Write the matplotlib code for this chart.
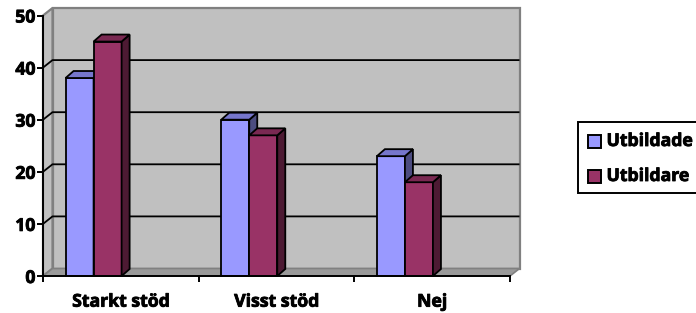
import matplotlib
matplotlib.use("Agg")
import matplotlib.pyplot as plt
from matplotlib.patches import Polygon, Rectangle
import matplotlib.patheffects as pe

# ---- data ----
categories = ["Starkt stöd", "Visst stöd", "Nej"]
series_names = ["Utbildade", "Utbildare"]
utbildade = [38, 30, 23]
utbildare = [45, 27, 18]
y_ticks = [0, 10, 20, 30, 40, 50]

# ---- style ----
FONT = "Open Sans"
FS = 12.7
WEIGHT = "bold"
EFFECT = [pe.withStroke(linewidth=0.6, foreground="black")]
front_cols = ["#9999FF", "#993366"]
top_cols = ["#7676CC", "#7A2952"]
side_cols = ["#4C4C80", "#4D1A33"]
wall_col = "#C0C0C0"
wall_edge = "#808080"
floor_col = "#9A9A9A"

W, H = 696, 313
fig = plt.figure(figsize=(W / 100, H / 100), dpi=100)
fig.patch.set_facecolor("white")

ax_l, ax_r = 43, 510
ax_t, ax_b = 15.5, 276
ax = fig.add_axes([ax_l / W, 1 - ax_b / H, (ax_r - ax_l) / W, (ax_b - ax_t) / H])
x0, x1 = -0.5, len(categories) - 0.5
y0, y1 = y_ticks[0], y_ticks[-1]
ax.set_xlim(x0, x1)
ax.set_ylim(y0, y1)
ax.set_facecolor("none")

px_x = (ax_r - ax_l) / (x1 - x0)
px_y = (ax_b - ax_t) / (y1 - y0)
wdx, wdy = 9.5 / px_x, 7.5 / px_y
bdx, bdy = 8 / px_x, 7 / px_y

# walls & floor
ax.add_patch(Polygon([(x0 + wdx, y0 + wdy), (x1 + wdx, y0 + wdy), (x1 + wdx, y1 + wdy), (x0 + wdx, y1 + wdy)],
                     closed=True, fc=wall_col, ec=wall_edge, lw=1.6, clip_on=False, zorder=0.5))
ax.add_patch(Polygon([(x0, y0), (x0 + wdx, y0 + wdy), (x0 + wdx, y1 + wdy), (x0, y1)],
                     closed=True, fc=wall_col, ec=wall_edge, lw=1.6, clip_on=False, zorder=0.6))
ax.add_patch(Polygon([(x0, y0), (x1, y0), (x1 + wdx, y0 + wdy), (x0 + wdx, y0 + wdy)],
                     closed=True, fc=floor_col, ec=wall_edge, lw=1.2, clip_on=False, zorder=0.7))

for v in y_ticks[1:-1]:
    ax.plot([x0, x0 + wdx, x1 + wdx], [v, v + wdy, v + wdy], color="black", lw=1.3,
            clip_on=False, zorder=1, solid_capstyle="butt")

# bars
w = 0.18
offsets = [-0.265, -0.085]
series = [utbildade, utbildare]
xs = list(range(len(categories)))
for si, vals in enumerate(series):
    z = 3 + si
    bars = ax.bar([x + offsets[si] for x in xs], vals, width=w, color=front_cols[si],
                  edgecolor="black", linewidth=1.3, zorder=z, clip_on=False)
    for rect in bars:
        a = rect.get_x()
        b = a + rect.get_width()
        h = rect.get_height()
        ax.add_patch(Polygon([(b, 0), (b + bdx, bdy), (b + bdx, h + bdy), (b, h)], closed=True,
                             fc=side_cols[si], ec="black", lw=1.3, zorder=z, clip_on=False))
        ax.add_patch(Polygon([(a, h), (b, h), (b + bdx, h + bdy), (a + bdx, h + bdy)], closed=True,
                             fc=top_cols[si], ec="black", lw=1.3, zorder=z, clip_on=False))

# axes
for s in ["top", "right"]:
    ax.spines[s].set_visible(False)
for s in ["left", "bottom"]:
    ax.spines[s].set_linewidth(1.4)
    ax.spines[s].set_color("black")
    ax.spines[s].set_zorder(6)

ax.set_yticks(y_ticks)
ax.set_yticklabels([str(t) for t in y_ticks])
ax.tick_params(axis="y", direction="out", length=4, width=1.4, pad=1.5)
ax.set_xticks(xs)
ax.set_xticklabels(categories)
ax.set_xticks([x0 + i for i in range(len(categories) + 1)], minor=True)
ax.tick_params(axis="x", which="major", length=0, pad=12)
ax.tick_params(axis="x", which="minor", direction="out", length=4, width=1.4)
for lab in ax.get_xticklabels() + ax.get_yticklabels():
    lab.set_fontfamily(FONT)
    lab.set_fontweight(WEIGHT)
    lab.set_fontsize(FS)
    lab.set_path_effects(EFFECT)

# legend (manual, figure pixel overlay)
lax = fig.add_axes([0, 0, 1, 1], zorder=10)
lax.set_xlim(0, W)
lax.set_ylim(H, 0)
lax.axis("off")
lax.add_patch(Rectangle((578, 122), 200, 71, fc="white", ec="black", lw=1.4, clip_on=True))
for i, name in enumerate(series_names):
    cy = 141 + i * 35
    lax.add_patch(Rectangle((587.5, cy - 6.5), 13, 13, fc=front_cols[i], ec="black", lw=1.4))
    lax.text(606.5, cy, name, fontfamily=FONT, fontweight=WEIGHT, fontsize=FS,
             va="center", ha="left", path_effects=EFFECT)

fig.savefig("out.png", dpi=100)
